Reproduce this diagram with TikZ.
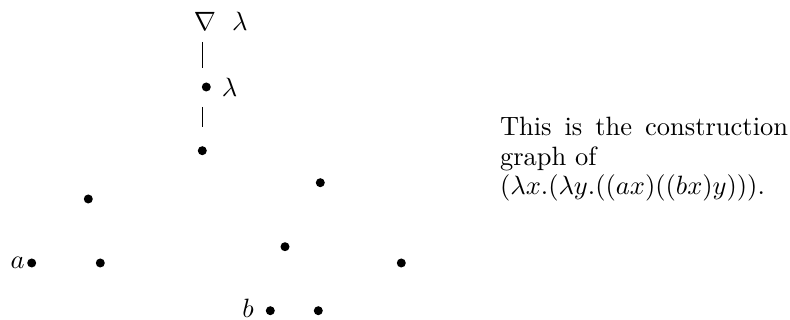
\documentclass[tikz,border=0pt]{standalone}
\usetikzlibrary{calc}
\begin{document}
\begin{tikzpicture}[x=0.3777pt,y=-0.3777pt,
  dot/.style={circle,fill=black,inner sep=0pt,minimum size=3.4pt},
  edge/.style={line width=0.4pt},
  every label/.style={inner sep=0pt}]
\useasboundingbox (0,0) rectangle (790,320);
\node[inner sep=0pt,label={[label distance=5.7pt]right:$\lambda$}] (n0) at (205,21) {$\nabla$};
\node[dot,label={[label distance=3.8pt]right:$\lambda$}] (n1) at (206.3,87) {};
\node[dot] (n2) at (202.3,150.7) {};
\node[dot] (n3) at (320.3,182.7) {};
\node[dot] (n4) at (88.3,199) {};
\node[dot] (n5) at (285,246.7) {};
\node[dot,label={[label distance=0.6pt]left:$a$}] (n6) at (31.7,263) {};
\node[dot] (n7) at (100.3,263) {};
\node[dot] (n8) at (401.3,263) {};
\node[dot,label={[label distance=4.2pt,yshift=0.8pt]left:$b$}] (n9) at (270.3,310.7) {};
\node[dot] (n10) at (318.3,310.7) {};
\draw[edge,shorten <=7.9pt,shorten >=7.2pt] (n0 -| n2) -- (n1 -| n2);
\draw[edge,shorten <=7.55pt,shorten >=7.2pt] (n1 -| n2) -- (n2);
\node[anchor=base west,inner sep=0pt,text width=108.8pt,align=justify,
      font=\fontsize{10}{11.1}\selectfont] (txt) at (499.5,136)
 {This is the construction graph of\\
  $(\lambda x.(\lambda y.((ax)((bx)y)))$.};
\end{tikzpicture}
\end{document}
